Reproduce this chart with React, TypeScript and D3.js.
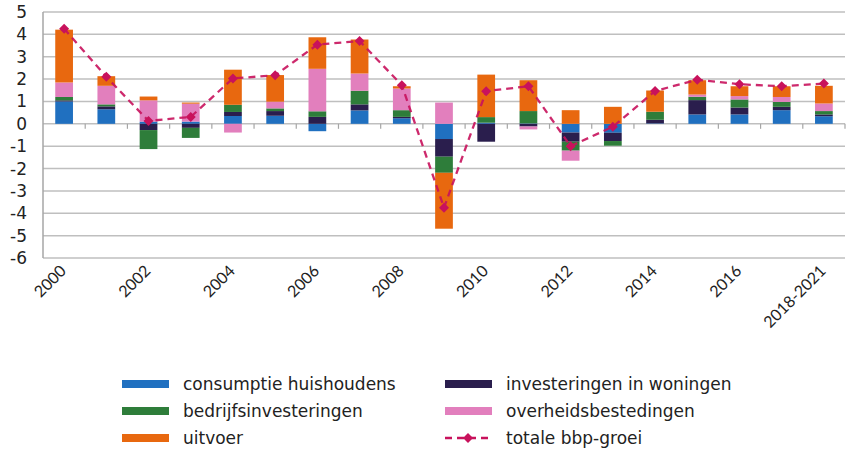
import { useEffect, useRef } from 'react';
import * as d3 from 'd3';

const CATEGORIES = ['2000', '2001', '2002', '2003', '2004', '2005', '2006', '2007', '2008', '2009',
  '2010', '2011', '2012', '2013', '2014', '2015', '2016', '2017', '2018-2021'];
const SHOWN_LABELS = ['2000', '2002', '2004', '2006', '2008', '2010', '2012', '2014', '2016', '2018-2021'];

const SERIES = ['consumptie huishoudens', 'investeringen in woningen', 'bedrijfsinvesteringen', 'overheidsbestedingen', 'uitvoer'];
const COLORS = ['#2070c0', '#2a1e4d', '#2e7d3a', '#e27fbd', '#e8680f'];

// contributions per year (procentpunt)
const CONSUMPTIE = [1.0, 0.65, 0.1, 0.1, 0.35, 0.36, -0.33, 0.6, 0.25, -0.68, 0.05, 0.02, -0.39, -0.4, 0.02, 0.42, 0.42, 0.61, 0.34];
const WONINGEN = [0.05, 0.13, -0.28, -0.18, 0.18, 0.21, 0.31, 0.27, 0.06, -0.79, -0.8, -0.12, -0.41, -0.37, 0.16, 0.64, 0.31, 0.15, 0.08];
const BEDRIJF = [0.15, 0.09, -0.85, -0.45, 0.32, 0.12, 0.25, 0.61, 0.3, -0.72, 0.25, 0.55, -0.4, -0.21, 0.36, 0.15, 0.36, 0.22, 0.15];
const OVERHEID = [0.65, 0.83, 0.95, 0.8, -0.39, 0.3, 1.9, 0.77, 0.97, 0.95, 0.0, -0.13, -0.45, 0.0, 0.0, 0.1, 0.15, 0.22, 0.34];
const UITVOER = [2.36, 0.43, 0.17, 0.05, 1.57, 1.19, 1.41, 1.52, 0.1, -2.5, 1.9, 1.38, 0.61, 0.76, 0.95, 0.64, 0.44, 0.48, 0.79];
const BBP_GROEI = [4.25, 2.1, 0.13, 0.31, 2.03, 2.17, 3.54, 3.7, 1.73, -3.75, 1.46, 1.68, -1.0, -0.13, 1.47, 1.97, 1.77, 1.68, 1.8];

const Y_TICKS = [5, 4, 3, 2, 1, 0, -1, -2, -3, -4, -5, -6];
const LINE_COLOR = '#c8125c';

export default function App() {
  const svgRef = useRef<SVGSVGElement>(null);

  useEffect(() => {
    const svg = d3.select(svgRef.current);
    svg.selectAll('*').remove();

    const x = d3.scaleBand().domain(CATEGORIES).range([43, 845]).paddingInner(0.58).paddingOuter(0.29);
    const y = d3.scaleLinear().domain([-6, 5]).range([258, 12]);
    const g = svg.append('g');

    // gridlines
    g.selectAll('line.grid').data(Y_TICKS).join('line')
      .attr('x1', 43).attr('x2', 845)
      .attr('y1', d => y(d)).attr('y2', d => y(d))
      .attr('stroke', '#bfbfbf').attr('stroke-width', 1.5);
    g.append('line').attr('x1', 43).attr('x2', 43).attr('y1', y(5)).attr('y2', y(-6))
      .attr('stroke', '#a6a6a6').attr('stroke-width', 1.5);

    // tick marks on zero line
    const step = x.step();
    g.selectAll('line.tick').data(CATEGORIES).join('line')
      .attr('x1', d => (x(d) as number) + x.bandwidth() / 2 + step / 2)
      .attr('x2', d => (x(d) as number) + x.bandwidth() / 2 + step / 2)
      .attr('y1', y(0)).attr('y2', y(0) + 5)
      .attr('stroke', '#a6a6a6').attr('stroke-width', 1.2);

    // y labels
    g.selectAll('text.ylab').data(Y_TICKS).join('text')
      .attr('x', 27).attr('y', d => y(d) + 6)
      .attr('text-anchor', 'end').attr('font-family', 'DejaVu Sans').attr('font-size', 17)
      .attr('fill', '#222').text(d => String(d));

    // stacked bars
    const table = CATEGORIES.map((c, i) => ({
      cat: c,
      [SERIES[0]]: CONSUMPTIE[i], [SERIES[1]]: WONINGEN[i], [SERIES[2]]: BEDRIJF[i],
      [SERIES[3]]: OVERHEID[i], [SERIES[4]]: UITVOER[i],
    }));
    const stack = d3.stack<any>().keys(SERIES).offset(d3.stackOffsetDiverging);
    const layers = stack(table);
    layers.forEach((layer, li) => {
      g.selectAll(`rect.s${li}`).data(layer).join('rect')
        .attr('x', d => x(d.data.cat) as number)
        .attr('width', x.bandwidth())
        .attr('y', d => y(Math.max(d[0], d[1])))
        .attr('height', d => Math.abs(y(d[0]) - y(d[1])))
        .attr('fill', COLORS[li]);
    });

    // total line
    const cx = (c: string) => (x(c) as number) + x.bandwidth() / 2;
    const line = d3.line<number>().x((_, i) => cx(CATEGORIES[i])).y(d => y(d));
    g.append('path').datum(BBP_GROEI).attr('d', line)
      .attr('fill', 'none').attr('stroke', LINE_COLOR).attr('stroke-width', 2.3)
      .attr('stroke-dasharray', '7,5').attr('opacity', 0.9);
    const diamond = d3.symbol().type(d3.symbolSquare).size(50);
    g.selectAll('path.mk').data(BBP_GROEI).join('path')
      .attr('d', diamond)
      .attr('transform', (d, i) => `translate(${cx(CATEGORIES[i])},${y(d)}) rotate(45)`)
      .attr('fill', LINE_COLOR);

    // x labels
    g.selectAll('text.xlab').data(SHOWN_LABELS).join('text')
      .attr('transform', d => `translate(${cx(d) + 3},${272}) rotate(-45)`)
      .attr('text-anchor', 'end').attr('font-family', 'Lato').attr('font-size', 16)
      .attr('fill', '#222').text(d => d);

    // legend
    const legend = [
      { name: SERIES[0], color: COLORS[0], x: 122, y: 384 },
      { name: SERIES[1], color: COLORS[1], x: 445, y: 384 },
      { name: SERIES[2], color: COLORS[2], x: 122, y: 411 },
      { name: SERIES[3], color: COLORS[3], x: 445, y: 411 },
      { name: SERIES[4], color: COLORS[4], x: 122, y: 438 },
    ];
    legend.forEach(l => {
      g.append('rect').attr('x', l.x).attr('y', l.y - 4).attr('width', 47).attr('height', 8).attr('fill', l.color);
      g.append('text').attr('x', l.x + 61).attr('y', l.y + 6)
        .attr('font-family', 'DejaVu Sans').attr('font-size', 17).attr('fill', '#222').text(l.name);
    });
    g.append('line').attr('x1', 445).attr('x2', 492).attr('y1', 438).attr('y2', 438)
      .attr('stroke', LINE_COLOR).attr('stroke-width', 2.3).attr('stroke-dasharray', '7,5');
    g.append('path').attr('d', diamond).attr('transform', 'translate(468,438) rotate(45)').attr('fill', LINE_COLOR);
    g.append('text').attr('x', 506).attr('y', 444)
      .attr('font-family', 'DejaVu Sans').attr('font-size', 17).attr('fill', '#222').text('totale bbp-groei');
  }, []);

  return (
    <div style={{ position: 'absolute', left: 0, top: 0 }}>
      <svg ref={svgRef} width={846} height={451} style={{ display: 'block', background: '#fff' }} />
    </div>
  );
}
